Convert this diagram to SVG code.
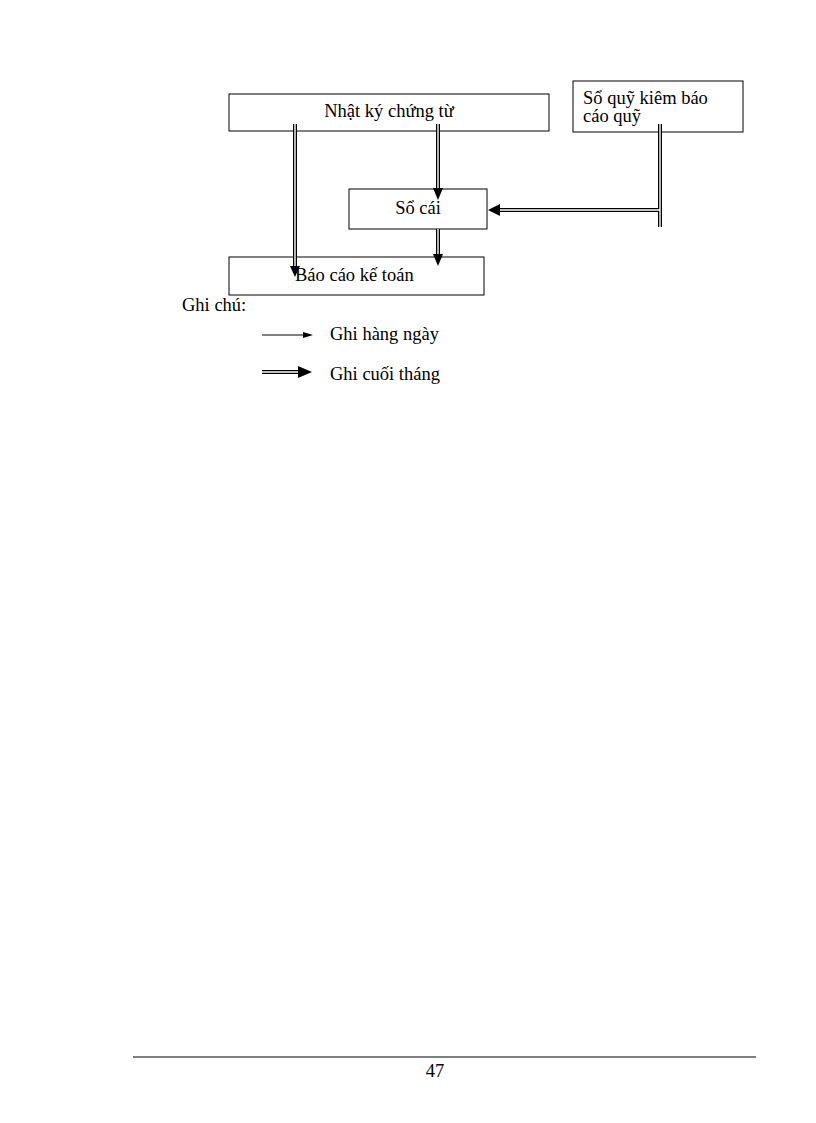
<svg xmlns="http://www.w3.org/2000/svg" width="816" height="1123" viewBox="0 0 816 1123">
<style>
.box{fill:#fff;stroke:#000;stroke-width:1}
text{font-family:"Liberation Serif",serif;font-size:18.5px;fill:#000}
.dbo{fill:none;stroke:#000;stroke-width:4}
.dbi{fill:none;stroke:#fff;stroke-width:1.4}
</style>
<rect width="816" height="1123" fill="#fff"/>
<g id="n1"><rect class="box" x="229" y="94" width="320" height="37"/><text x="389" y="117" text-anchor="middle">Nhật ký chứng từ</text></g>
<g id="n2"><rect class="box" x="573" y="81" width="170" height="51"/><text x="583" y="104">Sổ quỹ kiêm báo</text><text x="583" y="122">cáo quỹ</text></g>
<g id="n3"><rect class="box" x="349" y="189" width="138" height="40"/><text x="418" y="214" text-anchor="middle">Sổ cái</text></g>
<g id="n4"><rect class="box" x="229" y="257" width="255" height="38"/><text x="295" y="281">Báo cáo kế toán</text></g>
<g id="edges">
<path class="dbo" d="M295 124V268 M438 124V190 M438 229V254 M660 124V227 M660 210H500 M262 372H300"/>
<path class="dbi" d="M295 124V268 M438 124V190 M438 229V254 M660 124V227 M660 210H500 M262 372H300"/>
<path d="M290 266L300 266L295 277Z M433 188L443 188L438 200Z M433 254L443 254L438 266Z M500 204L500 216L488 210Z M298 366L298 378L312 372Z"/>
<path d="M262 335H304" stroke="#000" stroke-width="1"/>
<path d="M303 332L313 335L303 338Z"/>
</g>
<text x="182" y="311">Ghi chú:</text>
<text x="330" y="340">Ghi hàng ngày</text>
<text x="330" y="380">Ghi cuối tháng</text>
<path d="M133 1057H756" stroke="#000" stroke-width="1"/>
<text x="435" y="1077" text-anchor="middle">47</text>
</svg>
